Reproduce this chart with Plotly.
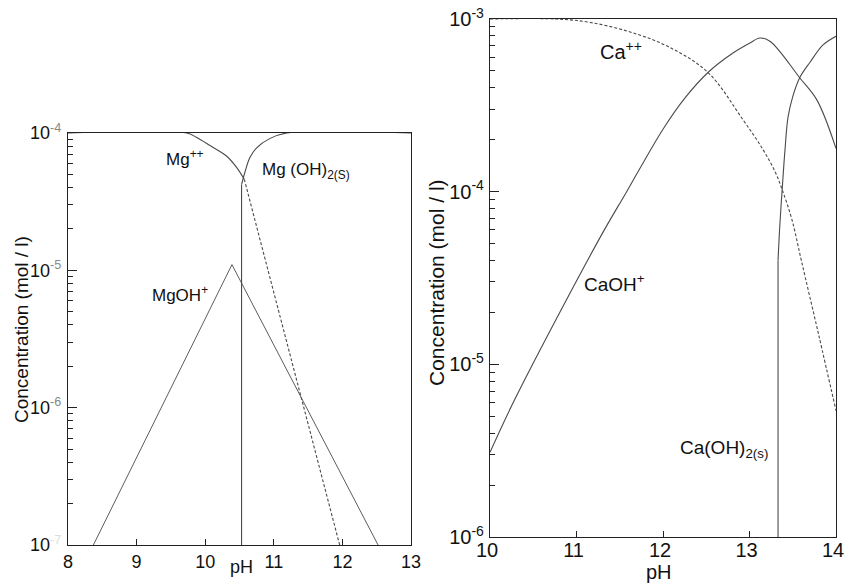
import plotly.graph_objects as go

# ---------------- Mg system (pH 8-13) ----------------
mg_ion_ph = [8.0, 9.73, 9.87, 10.07, 10.31, 10.46, 10.57]
mg_ion_conc = [1.0e-4, 1.0e-4, 9.3e-5, 8.1e-5, 6.8e-5, 5.6e-5, 4.6e-5]

mg_ion_sat_ph = [10.57, 11.96]
mg_ion_sat_conc = [4.6e-5, 1.0e-7]

mgoh_ph = [8.37, 10.39, 12.52]
mgoh_conc = [1.0e-7, 1.1e-5, 1.0e-7]

mg_solid_ph = [10.53, 10.53, 10.58, 10.65, 10.75, 10.94, 11.19, 13.0]
mg_solid_conc = [1.0e-7, 4.2e-5, 5.2e-5, 6.6e-5, 7.8e-5, 9.1e-5, 1.0e-4, 1.0e-4]

# ---------------- Ca system (pH 10-14) ----------------
ca_ion_ph = [10.0, 10.77, 11.16, 11.62, 12.06, 12.52, 12.92, 13.16, 13.30, 13.38,
             13.49, 13.6, 13.8, 14.0]
ca_ion_conc = [1.0e-3, 1.0e-3, 9.55e-4, 8.41e-4, 6.92e-4, 4.9e-4, 2.63e-4, 1.74e-4,
               1.29e-4, 1.02e-4, 6.9e-5, 3.98e-5, 1.48e-5, 5.4e-6]

caoh_ph = [10.0, 10.29, 11.27, 11.58, 12.0, 12.25, 12.52, 12.8, 13.0, 13.12, 13.24,
           13.58, 13.78, 14.0]
caoh_conc = [3.09e-6, 6.31e-6, 5.4e-5, 1.0e-4, 2.3e-4, 3.47e-4, 4.9e-4, 6.31e-4,
             7.24e-4, 7.76e-4, 7.41e-4, 4.57e-4, 3.39e-4, 1.78e-4]

ca_solid_ph = [13.33, 13.33, 13.35, 13.38, 13.41, 13.445, 13.50, 13.58, 13.70, 13.85, 14.0]
ca_solid_conc = [1.0e-6, 4.0e-5, 6.3e-5, 1.07e-4, 1.74e-4, 2.69e-4, 3.55e-4, 4.57e-4,
                 5.62e-4, 7.08e-4, 7.94e-4]

# axis ticks
mg_ph_ticks = [8, 9, 10, 11, 12, 13]
mg_conc_ticks = [1e-7, 1e-6, 1e-5, 1e-4]
mg_conc_labels = ["10<sup><span style='color:#dddddd'>-7</span></sup>",
                  "10<sup><span style='color:#888888'>-6</span></sup>",
                  "10<sup><span style='color:#888888'>-5</span></sup>",
                  "10<sup><span style='color:#888888'>-4</span></sup>"]
ca_ph_ticks = [10, 11, 12, 13, 14]
ca_conc_ticks = [1e-6, 1e-5, 1e-4, 1e-3]
ca_conc_labels = ["10<sup>-6</sup>", "10<sup>-5</sup>", "10<sup>-4</sup>", "10<sup>-3</sup>"]

W, H = 846, 583
FONT = "Liberation Sans, Arial, sans-serif"
CURVE = "#4a4a4a"
FRAME = "#222222"
TEXT = "#111111"


def px_x(p):
    return p / W


def px_y(p):
    return (H - p) / H


fig = go.Figure()


def curve(x, y, xa, ya, dash="solid", shape="spline", width=1.1):
    fig.add_trace(go.Scatter(
        x=x, y=y, xaxis=xa, yaxis=ya, mode="lines",
        line=dict(color=CURVE, width=width, dash=dash, shape=shape),
        showlegend=False, hoverinfo="skip"))


# Mg panel
curve(mg_ion_ph, mg_ion_conc, "x", "y")
curve(mg_ion_sat_ph, mg_ion_sat_conc, "x", "y", dash="3px,2px", shape="linear")
curve(mgoh_ph, mgoh_conc, "x", "y", shape="linear", width=0.9)
curve(mg_solid_ph[:2], mg_solid_conc[:2], "x", "y", shape="linear")
curve(mg_solid_ph[1:], mg_solid_conc[1:], "x", "y")

# Ca panel
curve(ca_ion_ph, ca_ion_conc, "x2", "y2", dash="3px,2px")
curve(caoh_ph, caoh_conc, "x2", "y2")
curve(ca_solid_ph[:2], ca_solid_conc[:2], "x2", "y2", shape="linear")
curve(ca_solid_ph[1:], ca_solid_conc[1:], "x2", "y2")


def minor_vals(lo_exp, hi_exp):
    vals = []
    for e in range(lo_exp, hi_exp):
        for m in range(2, 10):
            vals.append(m * 10.0 ** e)
    return vals


def axis(**kw):
    base = dict(showline=True, linecolor=FRAME, linewidth=1.2, mirror=True,
                showgrid=False, zeroline=False, ticks="inside", tickcolor=FRAME,
                automargin=False, tickmode="array", ticklabeloverflow="allow")
    base.update(kw)
    return base


def minor(lo, hi):
    return dict(tickmode="array", tickvals=minor_vals(lo, hi), ticks="inside",
                ticklen=5, tickcolor=FRAME, tickwidth=1)


fig.update_layout(
    width=W, height=H, autosize=False,
    margin=dict(l=0, r=0, t=0, b=0, pad=0),
    paper_bgcolor="white", plot_bgcolor="white",
    font=dict(family=FONT, color=TEXT),
    xaxis=axis(domain=[px_x(68), px_x(411)], range=[8, 13],
               tickvals=mg_ph_ticks, ticktext=[str(v) for v in mg_ph_ticks],
               ticklen=6, tickwidth=1, anchor="y",
               tickfont=dict(family=FONT, color=TEXT, size=18)),
    yaxis=axis(domain=[px_y(545), px_y(133)], type="log", range=[-7, -4],
               tickvals=mg_conc_ticks, ticktext=mg_conc_labels,
               ticklen=9, tickwidth=1.2, anchor="x", ticklabelstandoff=2,
               minor=minor(-7, -4),
               tickfont=dict(family=FONT, color=TEXT, size=18)),
    xaxis2=axis(domain=[px_x(490), px_x(836)], range=[10, 14],
                tickvals=ca_ph_ticks, ticktext=[str(v) for v in ca_ph_ticks],
                ticklen=6, tickwidth=1, anchor="y2",
                ticklabelstandoff=-5, ticklabelshift=-3,
                tickfont=dict(family=FONT, color=TEXT, size=20)),
    yaxis2=axis(domain=[px_y(537), px_y(19)], type="log", range=[-6, -3],
                tickvals=ca_conc_ticks, ticktext=ca_conc_labels,
                ticklen=9, tickwidth=1.2, anchor="x2", ticklabelstandoff=1,
                minor=minor(-6, -3),
                tickfont=dict(family=FONT, color=TEXT, size=20)),
)

annotations = []
# axis titles
for text, x, y, angle, size in [
    ("Concentration (mol / l)", 21, 330, -90, 19),
    ("pH", 241, 567, 0, 18),
    ("Concentration (mol / l)", 436, 283, -90, 21),
    ("pH", 659, 572, 0, 20),
]:
    annotations.append(dict(text=text, x=px_x(x), y=px_y(y), xref="paper", yref="paper",
                            textangle=angle, showarrow=False,
                            xanchor="center", yanchor="middle",
                            font=dict(family=FONT, color=TEXT, size=size)))

species_labels = [
    # (text, pH, log10 conc, x-anchor, axes, size)
    ("Mg<sup>++</sup>", 9.71, -4.18, "center", "x", "y", 17),
    ("Mg (OH)<sub>2</sub><sub>(S)</sub>", 10.80, -4.28, "left", "x", "y", 17),
    ("MgOH<sup>+</sup>", 9.63, -5.17, "center", "x", "y", 17),
    ("Ca<sup>++</sup>", 11.25, -3.18, "left", "x2", "y2", 20),
    ("CaOH<sup>+</sup>", 11.06, -4.53, "left", "x2", "y2", 19),
    ("Ca(OH)<sub>2</sub><sub>(s)</sub>", 13.24, -5.49, "right", "x2", "y2", 19),
]
for text, xv, yv, xanc, xr, yr, size in species_labels:
    annotations.append(dict(text=text, x=xv, y=yv, xref=xr, yref=yr,
                            showarrow=False, xanchor=xanc, yanchor="middle",
                            font=dict(family=FONT, color=TEXT, size=size)))

fig.update_layout(annotations=annotations)

fig.write_html("out.html")
